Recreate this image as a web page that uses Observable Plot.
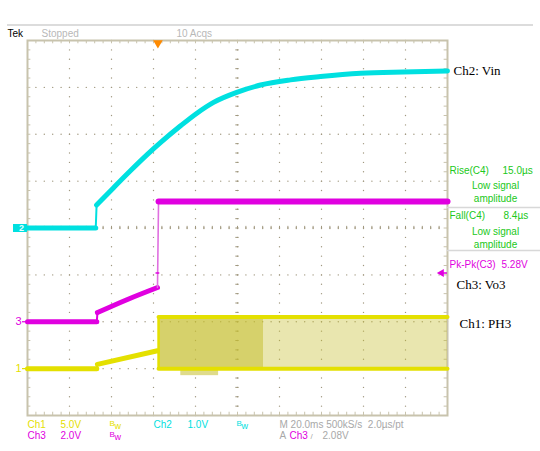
<!DOCTYPE html>
<html><head><meta charset="utf-8">
<script src="https://cdn.jsdelivr.net/npm/d3@7"></script>
<script src="https://cdn.jsdelivr.net/npm/@observablehq/plot@0.6"></script>
<style>
html,body{margin:0;padding:0;background:#fff;}
#chart svg{display:block;}
</style></head><body><div id="chart"></div>
<script>
// ---- channel settings ----
const channelNames = ["Ch1", "Ch2", "Ch3"];
const voltsPerDiv  = [5.0, 1.0, 2.0];
const groundDiv    = [-3, 0, -2];
const timePerDiv   = 20; // ms/div

// ---- Ch2: Vin (time ms, volts) ----
const ch2FlatTime  = [0, 32.5];
const ch2FlatVolts = [0, 0];
const ch2RiseTime  = [32.9, 41.0, 49.0, 57.1, 63.3, 72.9, 81.0, 88.6, 100.0, 111.0, 125.2, 139.5, 158.6, 179.0, 200];
const ch2RiseVolts = [0.49, 0.86, 1.22, 1.57, 1.82, 2.18, 2.46, 2.68, 2.90, 3.05, 3.16, 3.23, 3.30, 3.33, 3.35];

// ---- Ch3: Vo3 ----
const ch3LowTime   = [0, 33.0];
const ch3LowVolts  = [0, 0];
const ch3RampTime  = [33.3, 47.6, 61.9];
const ch3RampVolts = [0.39, 0.95, 1.46];
const ch3HighTime  = [62.4, 200];
const ch3HighVolts = [5.13, 5.13];

// ---- Ch1: PH3 ----
const ch1LowTime   = [0, 33.0];
const ch1LowVolts  = [0, 0];
const ch1RampTime  = [33.3, 61.9];
const ch1RampVolts = [0.45, 1.9];
const ch1BandStart   = [62.4, 112.4];
const ch1BandEnd     = [112.4, 200];
const ch1BandHigh    = [5.5, 5.5];
const ch1BandLow     = [0, 0];
const ch1BandDensity = [0.7, 0.38];
const ch1DipStart  = [73];
const ch1DipEnd    = [91];
const ch1DipHigh   = [-0.2];
const ch1DipLow    = [-0.75];

// ---- trigger ----
const triggerTime  = [62.1];
const triggerLevel = [2.08]; // V on Ch3

// ---- readout texts ----
const measLabels = ["Rise(C4)", "Fall(C4)", "Pk-Pk(C3)"];
const measValues = ["15.0µs", "8.4µs", "5.28V"];
const measNotes  = ["Low signal", "amplitude"];
const traceLabels = ["Ch2: Vin", "Ch3: Vo3", "Ch1: PH3"];

// ---- helpers ----
const div = (v, ch) => v / voltsPerDiv[ch] + groundDiv[ch];
const pts = (ts, vs, ch) => ts.map((t, i) => ({t, y: div(vs[i], ch)}));
const edge = (a, b) => [a[a.length - 1], b[0]];
const W = 540, H = 451, mL = 27, mR = 93, mT = 40, mB = 36;
const pxX = p => (p - mL) / (W - mL - mR) * 10 * timePerDiv;
const pxY = p => 4 - (p - mT) / (H - mT - mB) * 8;

const CY = "#00e0e0", MG = "#e000e0", YE = "#e4e000", BAND = "#c4bd2c", GREEN = "#20c820", GRAY = "#a8a8a8";
const GRID = "#a0987f", FRAME = "#c8c3ad";

const ch2Flat = pts(ch2FlatTime, ch2FlatVolts, 1), ch2Rise = pts(ch2RiseTime, ch2RiseVolts, 1);
const ch3Low = pts(ch3LowTime, ch3LowVolts, 2), ch3Ramp = pts(ch3RampTime, ch3RampVolts, 2), ch3High = pts(ch3HighTime, ch3HighVolts, 2);
const ch1Low = pts(ch1LowTime, ch1LowVolts, 0), ch1Ramp = pts(ch1RampTime, ch1RampVolts, 0);
const band = ch1BandStart.map((s, i) => ({x1: s, x2: ch1BandEnd[i], y1: div(ch1BandLow[i], 0), y2: div(ch1BandHigh[i], 0), d: ch1BandDensity[i]}));
const dip = ch1DipStart.map((s, i) => ({x1: s, x2: ch1DipEnd[i], y1: div(ch1DipLow[i], 0), y2: div(ch1DipHigh[i], 0)}));
const lastT = ch1BandEnd[ch1BandEnd.length - 1];
const railTop = [{t: ch1BandStart[0], y: div(ch1BandHigh[0], 0)}, {t: lastT, y: div(ch1BandHigh[0], 0)}];
const railBot = [{t: ch1BandStart[0], y: div(ch1BandLow[0], 0)}, {t: lastT, y: div(ch1BandLow[0], 0)}];
const bandEdge = [{t: ch1BandStart[0], y: div(ch1BandLow[0], 0)}, {t: ch1BandStart[0], y: div(ch1BandHigh[0], 0)}];

// ---- graticule ----
const minorX = d3.range(0, 200.001, timePerDiv / 5);
const minorY = d3.range(-4, 4.001, 0.2);
const majorX = d3.range(20, 181, 20);
const majorY = d3.range(-3, 3.01, 1);
const gridDots = [
  ...majorX.flatMap(x => minorY.map(y => ({x, y}))),
  ...majorY.flatMap(y => minorX.map(x => ({x, y})))
];

const label = (txt, px, py, o = {}) => Plot.text([txt], {
  frameAnchor: "top-left", dx: px - mL, dy: py - mT, text: d => d,
  textAnchor: "start", lineAnchor: "middle", fontSize: 10, fill: GRAY, ...o
});
const serif = {fontFamily: "'Liberation Serif', 'Times New Roman', serif", fontSize: 13, fill: "#000"};

const chart = Plot.plot({
  width: W, height: H, marginLeft: mL, marginRight: mR, marginTop: mT, marginBottom: mB,
  x: {domain: [0, 200], axis: null},
  y: {domain: [-4, 4], axis: null},
  style: {background: "#fff", fontFamily: "'Liberation Sans', Arial, sans-serif"},
  marks: [
    // graticule
    Plot.dot(gridDots, {x: "x", y: "y", r: 0.7, fill: GRID, stroke: null}),
    Plot.ruleY(minorY, {x1: 100 - 0.8, x2: 100 + 0.8, stroke: GRID, strokeWidth: 1}),
    Plot.ruleX(minorX, {y1: -0.035, y2: 0.035, stroke: GRID, strokeWidth: 1}),
    Plot.ruleX(minorX, {y1: 4, y2: 3.93, stroke: FRAME, strokeWidth: 1}),
    Plot.ruleX(minorX, {y1: -4, y2: -3.93, stroke: FRAME, strokeWidth: 1}),
    Plot.ruleY(minorY, {x1: 0, x2: 1.6, stroke: FRAME, strokeWidth: 1}),
    Plot.ruleY(minorY, {x1: 198.4, x2: 200, stroke: FRAME, strokeWidth: 1}),
    Plot.frame({stroke: FRAME, strokeWidth: 2}),

    // Ch1 switching band
    Plot.rect(band, {x1: "x1", x2: "x2", y1: "y1", y2: "y2", fill: BAND, fillOpacity: "d"}),
    Plot.rect(dip, {x1: "x1", x2: "x2", y1: "y1", y2: "y2", fill: BAND, fillOpacity: 0.55}),
    Plot.line(railTop, {x: "t", y: "y", stroke: YE, strokeWidth: 4}),
    Plot.line(railBot, {x: "t", y: "y", stroke: YE, strokeWidth: 4}),
    Plot.line(bandEdge, {x: "t", y: "y", stroke: YE, strokeWidth: 2.5}),
    Plot.line(ch1Low, {x: "t", y: "y", stroke: YE, strokeWidth: 5}),
    Plot.line(edge(ch1Low, ch1Ramp), {x: "t", y: "y", stroke: YE, strokeWidth: 2}),
    Plot.line(ch1Ramp, {x: "t", y: "y", stroke: YE, strokeWidth: 5}),

    // Ch3
    Plot.line(ch3Low, {x: "t", y: "y", stroke: MG, strokeWidth: 5}),
    Plot.line(edge(ch3Low, ch3Ramp), {x: "t", y: "y", stroke: MG, strokeWidth: 2}),
    Plot.line(ch3Ramp, {x: "t", y: "y", stroke: MG, strokeWidth: 5, curve: "monotone-x"}),
    Plot.line(edge(ch3Ramp, ch3High), {x: "t", y: "y", stroke: "#e070e0", strokeWidth: 1.6}),
    Plot.line(ch3High, {x: "t", y: "y", stroke: MG, strokeWidth: 6}),
    Plot.ruleY(triggerLevel, {y: v => div(v, 2), x1: triggerTime[0] - 0.9, x2: triggerTime[0] + 0.9, stroke: MG, strokeWidth: 1.5}),

    // Ch2
    Plot.line(ch2Flat, {x: "t", y: "y", stroke: CY, strokeWidth: 5}),
    Plot.line(edge(ch2Flat, ch2Rise), {x: "t", y: "y", stroke: CY, strokeWidth: 2}),
    Plot.line(ch2Rise, {x: "t", y: "y", stroke: CY, strokeWidth: 5, curve: "monotone-x"}),

    // trigger markers
    Plot.dot(triggerTime, {x: d => d, y: 4, symbol: "triangle", rotate: 180, r: 3.6, dy: 2.5, fill: "#ff8a00", stroke: null}),
    Plot.ruleY(triggerLevel, {y: v => div(v, 2), x1: pxX(441), x2: 200, stroke: MG, strokeWidth: 1.5}),
    Plot.dot(triggerLevel, {x: pxX(441), y: v => div(v, 2), symbol: "triangle", rotate: -90, r: 3, fill: MG, stroke: null}),

    // ground markers
    Plot.ruleY([groundDiv[1]], {x1: pxX(13), x2: 0, stroke: CY, strokeWidth: 8}),
    Plot.text(["2"], {x: pxX(21), y: groundDiv[1], text: d => d, fill: "#e8ffff", fontSize: 9, fontWeight: "bold"}),
    Plot.text(["3"], {x: pxX(18), y: groundDiv[2], text: d => d, fill: MG, fontSize: 11}),
    Plot.ruleY([groundDiv[2]], {x1: pxX(22), x2: 0, stroke: MG, strokeWidth: 1.2}),
    Plot.text(["1"], {x: pxX(18), y: groundDiv[0], text: d => d, fill: YE, fontSize: 11}),
    Plot.ruleY([groundDiv[0]], {x1: pxX(22), x2: 0, stroke: YE, strokeWidth: 1.2}),

    // header
    Plot.ruleY([pxY(24.5)], {x1: pxX(7), x2: pxX(533), stroke: "#dcdcdc", strokeWidth: 2}),
    label("Tek", 7, 33, {fill: "#000"}),
    label("Stopped", 41, 33, {fill: "#b8b8b8"}),
    label("10 Acqs", 176, 33, {fill: "#b8b8b8"}),

    // footer
    label(channelNames[0], 27, 424.5, {fill: YE}),
    label(voltsPerDiv[0].toFixed(1) + "V", 60, 424.5, {fill: YE}),
    label("B", 109, 422.5, {fill: YE, fontSize: 8}),
    label("w", 114, 426, {fill: YE, fontSize: 9}),
    label(channelNames[1], 153, 424.5, {fill: CY}),
    label(voltsPerDiv[1].toFixed(1) + "V", 187, 424.5, {fill: CY}),
    label("B", 236, 422.5, {fill: CY, fontSize: 8}),
    label("w", 241, 426, {fill: CY, fontSize: 9}),
    label("M " + timePerDiv.toFixed(1) + "ms 500kS/s  2.0µs/pt", 279, 424.5, {fill: GRAY}),
    label(channelNames[2], 27, 435.5, {fill: MG}),
    label(voltsPerDiv[2].toFixed(1) + "V", 60, 435.5, {fill: MG}),
    label("B", 109, 433.5, {fill: MG, fontSize: 8}),
    label("w", 114, 437, {fill: MG, fontSize: 9}),
    label("A", 279, 435.5, {fill: GRAY}),
    label(channelNames[2], 289, 435.5, {fill: MG}),
    label("/", 310, 436, {fill: GRAY, fontSize: 8}),
    label(triggerLevel[0].toFixed(2) + "V", 322, 435.5, {fill: GRAY}),

    // measurement panel
    label(measLabels[0], 449, 170, {fill: GREEN}),
    label(measValues[0], 502, 170, {fill: GREEN}),
    label(measNotes[0], 495, 185, {fill: GREEN, textAnchor: "middle"}),
    label(measNotes[1], 495, 198, {fill: GREEN, textAnchor: "middle"}),
    Plot.ruleY([pxY(207)], {x1: 200, x2: pxX(540), stroke: "#d8d8d8", strokeWidth: 1.5}),
    label(measLabels[1], 449, 215, {fill: GREEN}),
    label(measValues[1], 503, 215, {fill: GREEN}),
    label(measNotes[0], 495, 231, {fill: GREEN, textAnchor: "middle"}),
    label(measNotes[1], 495, 244, {fill: GREEN, textAnchor: "middle"}),
    Plot.ruleY([pxY(250)], {x1: 200, x2: pxX(540), stroke: "#d8d8d8", strokeWidth: 1.5}),
    label(measLabels[2], 449, 264, {fill: MG}),
    label(measValues[2], 501, 264, {fill: MG}),

    // trace labels
    label(traceLabels[0], 453, 70, serif),
    label(traceLabels[1], 456, 284, serif),
    label(traceLabels[2], 459, 323, serif)
  ]
});
document.getElementById("chart").appendChild(chart);
</script>
</body></html>
